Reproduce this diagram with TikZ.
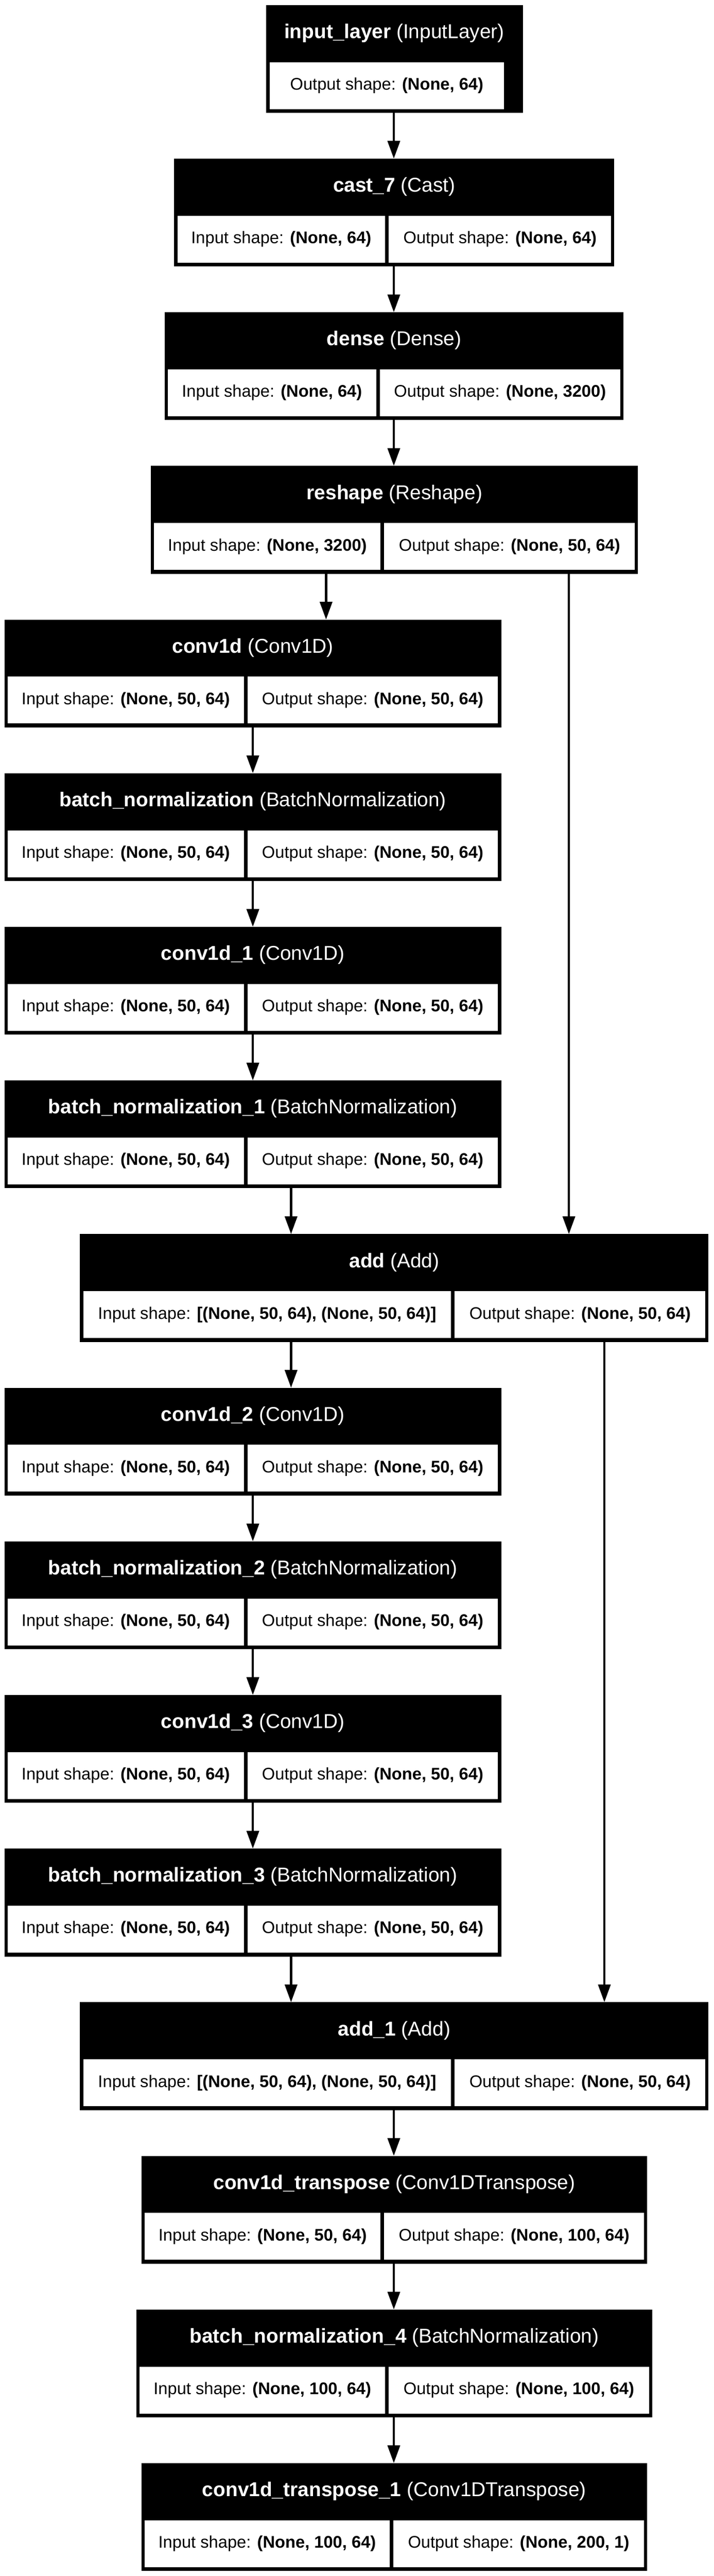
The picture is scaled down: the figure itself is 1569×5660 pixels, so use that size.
\documentclass[tikz,border=0pt]{standalone}
\usepackage{fontspec}
\setmainfont{Liberation Sans}
\usetikzlibrary{arrows.meta}
\tikzset{
  lbox/.style={fill=black,draw=none,inner sep=0pt,outer sep=0pt,minimum height=118.5pt},
  cell/.style={fill=white,draw=none,inner sep=0pt,outer sep=0pt,minimum height=51.5pt,font=\fontsize{18.5}{22}\selectfont},
  hdr/.style={text=white,inner sep=0pt,font=\fontsize{22}{26}\selectfont},
  arr/.style={line width=2.5pt,-{Triangle[length=19.5pt,width=13.5pt]}}
}
\newcommand\lyr[8]{%
  \pgfmathsetmacro\T{11+337.56*#2}%
  \pgfmathsetmacro\W{(#4-#3)*0.5}%
  \pgfmathsetmacro\CX{(#3+#4)/2}%
  \node[lbox,minimum width=\W pt] (#1) at (\CX,\T+118.5) {};
  \node[hdr] (#1-t) at (\CX,\T+62) {#6};
  \pgfmathsetmacro\WA{(#5-#3-7)*0.5}%
  \pgfmathsetmacro\XA{(#3+7+#5)/2}%
  \node[cell,minimum width=\WA pt] (#1-in) at (\XA,\T+177) {#7};
  \pgfmathsetmacro\WB{(#4-7-#5-8)*0.5}%
  \pgfmathsetmacro\XB{(#5+8+#4-7)/2}%
  \node[cell,minimum width=\WB pt] (#1-out) at (\XB,\T+177) {#8};
}
\begin{document}
\begin{tikzpicture}[x=0.5pt,y=-0.5pt]
\fill[white] (0,0) rectangle (1569,5660);
\useasboundingbox (0,0) rectangle (1569,5660);
% input layer
\node[lbox,minimum width=282.5pt] (inputlayer) at (867.5,129.5) {};
\node[hdr] (inputlayer-t) at (867,73) {\textbf{input\_layer} (InputLayer)};
\node[cell,minimum width=257.5pt] (inputlayer-out) at (850.5,188) {Output shape: \textbf{(None, 64)}};
\lyr{cast7}{1}{383}{1351}{847}{\textbf{cast\_7} (Cast)}{Input shape: \textbf{(None, 64)}}{Output shape: \textbf{(None, 64)}}
\lyr{dense}{2}{362}{1371}{827}{\textbf{dense} (Dense)}{Input shape: \textbf{(None, 64)}}{Output shape: \textbf{(None, 3200)}}
\lyr{reshape}{3}{332}{1403}{837}{\textbf{reshape} (Reshape)}{Input shape: \textbf{(None, 3200)}}{Output shape: \textbf{(None, 50, 64)}}
\lyr{conva}{4}{10}{1102}{536}{\textbf{conv1d} (Conv1D)}{Input shape: \textbf{(None, 50, 64)}}{Output shape: \textbf{(None, 50, 64)}}
\lyr{bna}{5}{10}{1102}{536}{\textbf{batch\_normalization} (BatchNormalization)}{Input shape: \textbf{(None, 50, 64)}}{Output shape: \textbf{(None, 50, 64)}}
\lyr{convb}{6}{10}{1102}{536}{\textbf{conv1d\_1} (Conv1D)}{Input shape: \textbf{(None, 50, 64)}}{Output shape: \textbf{(None, 50, 64)}}
\lyr{bnb}{7}{10}{1102}{536}{\textbf{batch\_normalization\_1} (BatchNormalization)}{Input shape: \textbf{(None, 50, 64)}}{Output shape: \textbf{(None, 50, 64)}}
\lyr{adda}{8}{176}{1558}{992}{\textbf{add} (Add)}{Input shape: \textbf{[(None, 50, 64), (None, 50, 64)]}}{Output shape: \textbf{(None, 50, 64)}}
\lyr{convc}{9}{10}{1102}{536}{\textbf{conv1d\_2} (Conv1D)}{Input shape: \textbf{(None, 50, 64)}}{Output shape: \textbf{(None, 50, 64)}}
\lyr{bnc}{10}{10}{1102}{536}{\textbf{batch\_normalization\_2} (BatchNormalization)}{Input shape: \textbf{(None, 50, 64)}}{Output shape: \textbf{(None, 50, 64)}}
\lyr{convd}{11}{10}{1102}{536}{\textbf{conv1d\_3} (Conv1D)}{Input shape: \textbf{(None, 50, 64)}}{Output shape: \textbf{(None, 50, 64)}}
\lyr{bnd}{12}{10}{1102}{536}{\textbf{batch\_normalization\_3} (BatchNormalization)}{Input shape: \textbf{(None, 50, 64)}}{Output shape: \textbf{(None, 50, 64)}}
\lyr{addb}{13}{176}{1558}{992}{\textbf{add\_1} (Add)}{Input shape: \textbf{[(None, 50, 64), (None, 50, 64)]}}{Output shape: \textbf{(None, 50, 64)}}
\lyr{cta}{14}{311}{1423}{837}{\textbf{conv1d\_transpose} (Conv1DTranspose)}{Input shape: \textbf{(None, 50, 64)}}{Output shape: \textbf{(None, 100, 64)}}
\lyr{bne}{15}{300}{1434}{847}{\textbf{batch\_normalization\_4} (BatchNormalization)}{Input shape: \textbf{(None, 100, 64)}}{Output shape: \textbf{(None, 100, 64)}}
\lyr{ctb}{16}{311}{1423}{857}{\textbf{conv1d\_transpose\_1} (Conv1DTranspose)}{Input shape: \textbf{(None, 100, 64)}}{Output shape: \textbf{(None, 200, 1)}}
% connectors
\draw[arr] (inputlayer.south -| 866,0) -- (cast7.north -| 866,0);
\draw[arr] (cast7.south -| 866,0) -- (dense.north -| 866,0);
\draw[arr] (dense.south -| 866,0) -- (reshape.north -| 866,0);
\draw[arr] (reshape.south -| 717,0) -- (conva.north -| 717,0);
\draw[arr] (reshape.south -| 1251,0) -- (adda.north -| 1251,0);
\draw[arr] (conva.south -| 556,0) -- (bna.north -| 556,0);
\draw[arr] (bna.south -| 556,0) -- (convb.north -| 556,0);
\draw[arr] (convb.south -| 556,0) -- (bnb.north -| 556,0);
\draw[arr] (bnb.south -| 640,0) -- (adda.north -| 640,0);
\draw[arr] (adda.south -| 640,0) -- (convc.north -| 640,0);
\draw[arr] (adda.south -| 1329,0) -- (addb.north -| 1329,0);
\draw[arr] (convc.south -| 556,0) -- (bnc.north -| 556,0);
\draw[arr] (bnc.south -| 556,0) -- (convd.north -| 556,0);
\draw[arr] (convd.south -| 556,0) -- (bnd.north -| 556,0);
\draw[arr] (bnd.south -| 640,0) -- (addb.north -| 640,0);
\draw[arr] (addb.south -| 866,0) -- (cta.north -| 866,0);
\draw[arr] (cta.south -| 866,0) -- (bne.north -| 866,0);
\draw[arr] (bne.south -| 866,0) -- (ctb.north -| 866,0);
\end{tikzpicture}
\end{document}
